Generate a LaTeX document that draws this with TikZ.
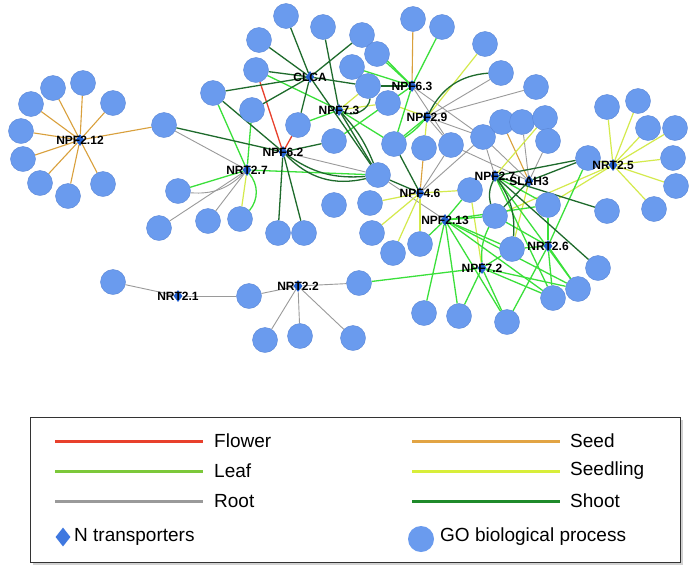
\documentclass[tikz,border=0pt]{standalone}
\usepackage{fontspec}
\setmainfont{Liberation Sans}
\usetikzlibrary{shapes.geometric}
\pgfdeclarelayer{bg}
\pgfsetlayers{bg,main}
\definecolor{gofill}{HTML}{6A9BEE}
\definecolor{godraw}{HTML}{5A86D6}
\definecolor{trfill}{HTML}{2260D0}
\definecolor{lgtr}{HTML}{3F78E0}
\definecolor{flowerc}{HTML}{E8402C}
\definecolor{leafc}{HTML}{3AE03A}
\definecolor{rootc}{HTML}{9A9A9A}
\definecolor{seedc}{HTML}{D9A03C}
\definecolor{seedlingc}{HTML}{D4EA4C}
\definecolor{shootc}{HTML}{1E6B2C}
\definecolor{lgleaf}{HTML}{7CC83A}
\definecolor{lgshoot}{HTML}{1F8A2A}
\definecolor{lgseed}{HTML}{E2A444}
\definecolor{lgseedling}{HTML}{D8EE3A}
\begin{document}
\begin{tikzpicture}[x=1pt,y=-1pt,
  go/.style={circle,fill=gofill,draw=godraw,line width=0.4pt,minimum size=25pt,inner sep=0pt},
  tr/.style={diamond,fill=trfill,minimum width=9pt,minimum height=12pt,inner sep=0pt},
  lab/.style={font=\bfseries\fontsize{12}{12}\selectfont,inner sep=0pt},
  flower/.style={draw=flowerc,line width=1.3pt},
  leaf/.style={draw=leafc,line width=1.3pt},
  root/.style={draw=rootc,line width=0.9pt},
  seed/.style={draw=seedc,line width=1.1pt},
  seedling/.style={draw=seedlingc,line width=1.2pt},
  shoot/.style={draw=shootc,line width=1.3pt},
  lgline/.style={line width=3pt},
  lgtext/.style={anchor=west,font=\fontsize{19}{19}\selectfont,inner sep=0pt}
]
\useasboundingbox (0,0) rectangle (700,576);

% GO biological process nodes
\foreach \n/\x/\y in {a1/53/88,a2/83/83,a3/31/104,a4/113/103,a5/21/131,a6/23/159,a7/40/183,a8/68/196,a9/103/184,
  b1/164/125,c1/286/16,c2/323/27,c3/259/40,c4/362/35,c5/377/54,c6/256/70,c7/352/67,c8/368/86,c9/388/103,
  c10/213/93,c11/252/110,c12/298/125,c13/334/141,c14/394/144,c15/378/175,c16/413/19,c17/442/27,c18/485/44,
  c19/501/73,c20/536/87,c21/451/145,c22/483/137,c23/424/148,c24/502/122,c25/522/122,c26/545/118,d1/548/141,
  c27/470/190,c28/370/203,c29/372/233,c30/393/253,c31/420/244,c32/334/205,c33/359/283,c34/588/158,
  c35/607/107,c36/638/101,c37/648/128,c38/675/128,c39/673/158,c40/676/186,c41/654/209,c42/548/205,
  c43/495/216,c44/607/211,c45/598/268,c46/512/249,c47/578/289,c48/553/298,c49/424/313,c50/459/316,
  c51/507/322,c52/178/191,c53/159/228,c54/208/221,c55/240/219,c56/278/233,c57/304/233,c58/113/282,
  c59/249/296,c60/265/340,c61/300/336,c62/353/338}
  \node[go] (\n) at (\x,\y) {};

% N transporters
\foreach \n/\x/\y/\t in {t212/80/140/NPF2.12,clca/310/77/CLCA,t63/412/86/NPF6.3,t73/339/110/NPF7.3,
  t29/427/117/NPF2.9,t62/283/152/NPF6.2,r27/247/170/NRT2.7,t46/420/193/NPF4.6,t27/495/176/NPF2.7,
  slah/529/181/SLAH3,r25/613/165/NRT2.5,t213/445/220/NPF2.13,r26/548/246/NRT2.6,t72/482/268/NPF7.2,
  r21/178/296/NRT2.1,r22/298/286/NRT2.2}
  {\node[tr] (\n) at (\x,\y) {};
   \node[lab] (\n-l) at (\x,\y) {\t};}

\begin{pgfonlayer}{bg}
\fill[white] (0,0) rectangle (700,576);
% seed
\foreach \g in {a1,a2,a3,a4,a5,a6,a7,a8,a9,b1} \draw[seed] (t212) -- (\g);
\draw[seed] (t63) -- (c16);
\draw[seed] (t46) -- (c23);
\draw[seed] (slah) -- (c24);
% flower
\draw[flower] (t62) -- (c6);
\draw[flower] (t62) -- (c12);
% root
\foreach \a/\b in {b1/r27,r27/c53,r27/c54,t62/c15,c15/t213,t63/c21,t63/c22,t29/c19,t29/c20,t29/c21,
  t29/c22,t46/c21,t46/c22,t27/c22,slah/c22,slah/c25,slah/d1,slah/c21,r21/c58,r21/c59,r22/c59,r22/c33,
  r22/c60,r22/c61,r22/c62}
  \draw[root] (\a) -- (\b);
\draw[root] (r27) to[bend left=25] (c52);
% seedling
\foreach \a/\b in {r27/c55,t73/c8,t73/c9,t29/c9,t29/c18,t29/c23,t46/c27,t46/c28,t46/c29,t46/c30,t46/c31,
  r25/c34,r25/c35,r25/c36,r25/c37,r25/c38,r25/c39,r25/c40,r25/c41,r25/c42,r25/c43,t27/c26,t72/c27,slah/c46}
  \draw[seedling] (\a) -- (\b);
% leaf
\foreach \a/\b in {r27/c10,r27/c11,r27/c52,r27/c15,t73/c6,t73/c12,t73/c14,t63/c4,t63/c5,t63/c7,t63/c13,
  t63/c14,t63/c17,t29/c14,t213/c27,t213/c43,t213/c42,t213/c46,t213/c47,t213/c48,t213/c49,t213/c50,
  t213/c51,t213/c31,r26/c42,r26/c46,r26/c43,r26/c47,r26/c48,r26/c51,r26/c34,t72/c33,t72/c50,t72/c51,
  t72/c48,t72/c47,t72/c46,t27/c42,t27/c47,t27/c48}
  \draw[leaf] (\a) -- (\b);
\draw[leaf] (r27) to[bend left=40] (c55);
\draw[leaf] (t29) to[bend left=8] (c14);
\draw[leaf] (t72) to[bend left=15] (c43);
% shoot
\foreach \a/\b in {b1/t62,clca/c1,clca/c3,clca/c4,clca/c6,clca/c10,clca/c11,clca/c8,clca/c12,clca/c15,
  t73/c2,t73/c15,t62/c10,t62/c13,t62/c56,t62/c57,t63/c8,t46/c14,t46/c15,t27/c34,slah/c34,slah/c43,
  t27/c44,t27/c45}
  \draw[shoot] (\a) -- (\b);
\draw[shoot] (t73) to[bend left=10] (c15);
\draw[shoot] (t73) to[bend right=60] (c8);
\draw[shoot] (t62) to[bend right=20] (c15);
\draw[shoot] (t62) to[bend right=30] (c15);
\draw[shoot] (t29) to[bend left=30] (c19);
\draw[shoot] (t27) to[bend left=20] (c46);
\draw[shoot] (t27) to[bend right=20] (c43);
\end{pgfonlayer}

% legend
\fill[black!18] (33,420) rectangle (683,565);
\draw[fill=white,draw=black!80,line width=0.8pt] (30,417) rectangle (680,562);
\coordinate (lf1) at (55,441); \coordinate (lf2) at (203,441);
\coordinate (ll1) at (55,471); \coordinate (ll2) at (203,471);
\coordinate (lr1) at (55,501); \coordinate (lr2) at (203,501);
\coordinate (ls1) at (412,441); \coordinate (ls2) at (560,441);
\coordinate (lg1) at (412,471); \coordinate (lg2) at (560,471);
\coordinate (lh1) at (412,501); \coordinate (lh2) at (560,501);
\draw[lgline,draw=flowerc] (lf1) -- (lf2);
\draw[lgline,draw=lgleaf] (ll1) -- (ll2);
\draw[lgline,draw=rootc] (lr1) -- (lr2);
\draw[lgline,draw=lgseed] (ls1) -- (ls2);
\draw[lgline,draw=lgseedling] (lg1) -- (lg2);
\draw[lgline,draw=lgshoot] (lh1) -- (lh2);
\node[lgtext] (tfl) at (214,441) {Flower};
\node[lgtext] (tle) at (214,471) {Leaf};
\node[lgtext] (tro) at (214,501) {Root};
\node[lgtext] (tse) at (570,441) {Seed};
\node[lgtext] (tsg) at (570,471) {Seedling};
\node[lgtext] (tsh) at (570,501) {Shoot};
\node[diamond,fill=lgtr,minimum width=15pt,minimum height=19pt,inner sep=0pt] (lgd) at (63,537) {};
\node[lgtext] (tnt) at (74,537) {N transporters};
\node[circle,fill=gofill,minimum size=26pt,inner sep=0pt] (lgc) at (421,539) {};
\node[lgtext] (tgo) at (440,537) {GO biological process};
\end{tikzpicture}
\end{document}
